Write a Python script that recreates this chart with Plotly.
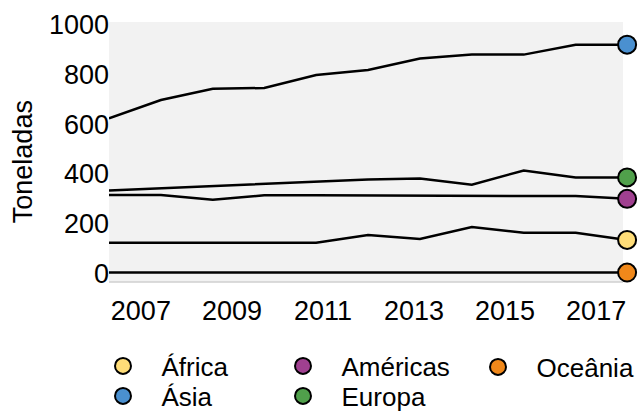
import plotly.graph_objects as go

# x positions (years) of the data points
years = [2006.30, 2007.44, 2008.58, 2009.71, 2010.85, 2011.99,
         2013.13, 2014.27, 2015.41, 2016.55, 2017.68]

regions = ["África", "Américas", "Oceânia", "Ásia", "Europa"]
africa = [124, 124, 124, 124, 124, 155, 139, 187, 164, 164, 135]
americas = [315, 315, 296, 314, 314, 313, 312, 311, 310, 311, 300]
oceania = [4, 4, 4, 4, 4, 4, 4, 4, 4, 4, 4]
asia = [623, 697, 742, 745, 797, 817, 863, 879, 879, 919, 919]
europa = [333, 342, 351, 360, 369, 378, 382, 357, 414, 386, 386]

series = [africa, americas, oceania, asia, europa]
colors = ["#ffdd78", "#a04090", "#f0881a", "#4a90d0", "#50a04b"]

x_ticks = [2007, 2009, 2011, 2013, 2015, 2017]
y_ticks = [0, 200, 400, 600, 800, 1000]

FONT = "Liberation Sans, Arial, sans-serif"
W, H = 638, 414
ML, MR, MT, MB = 109, 10, 22, 132
PW, PH = W - ML - MR, H - MT - MB
BG_RIGHT = (623 - ML) / PW   # grey panel ends a little before the end markers


def px_x(px):
    return (px - ML) / PW


def px_y(py):
    return (MT + PH - py) / PH


fig = go.Figure()

for name, vals in zip(regions, series):
    fig.add_trace(go.Scatter(
        x=years, y=vals, mode="lines",
        line=dict(color="black", width=2.5),
        showlegend=False, hoverinfo="skip", cliponaxis=False,
    ))

# legend item centres (reference pixels)
leg_pos = [(123, 367), (303, 367), (498, 368), (123, 397), (303, 397)]
legend_names = ["legend", "legend2", "legend3", "legend4", "legend5"]

for i, (name, vals, col) in enumerate(zip(regions, series, colors)):
    fig.add_trace(go.Scatter(
        x=[years[-1]], y=[vals[-1]], mode="markers", name=name,
        marker=dict(size=18, color=col, line=dict(color="black", width=2)),
        legend=legend_names[i], cliponaxis=False,
    ))

layout_legends = {}
for ln, (px, py) in zip(legend_names, leg_pos):
    layout_legends[ln] = dict(
        xref="paper", yref="paper",
        x=px_x(px - 38.5), y=px_y(py - 1),
        xanchor="left", yanchor="middle",
        bgcolor="rgba(0,0,0,0)",
        font=dict(family=FONT, size=26, color="black"),
        itemwidth=67,
    )

fig.update_layout(
    width=W, height=H,
    margin=dict(l=ML, r=MR, t=MT, b=MB, autoexpand=False),
    paper_bgcolor="white",
    plot_bgcolor="white",
    font=dict(family=FONT, size=27, color="black"),
    xaxis=dict(
        range=[2006.30, 2017.70],
        tickvals=x_ticks, ticktext=[str(v) for v in x_ticks],
        showgrid=False, zeroline=False, showline=False,
        ticks="", ticklabelstandoff=10,
        tickfont=dict(family=FONT, size=27, color="black"),
    ),
    yaxis=dict(
        range=[-34, 1010],
        tickvals=y_ticks, ticktext=[str(v) for v in y_ticks],
        showgrid=False, zeroline=False, showline=False,
        ticks="", ticklabelstandoff=-1,
        tickfont=dict(family=FONT, size=27, color="black"),
    ),
    shapes=[
        dict(type="rect", xref="paper", yref="paper", layer="below",
             x0=0, x1=BG_RIGHT, y0=0, y1=1,
             fillcolor="#f2f2f2", line=dict(width=0)),
        dict(type="line", xref="paper", yref="paper", layer="below",
             x0=0, x1=BG_RIGHT, y0=0, y1=0,
             line=dict(color="#cfcfcf", width=1.5)),
    ],
    annotations=[dict(
        text="Toneladas", textangle=-90,
        xref="paper", yref="paper",
        x=px_x(22.5), y=px_y(161.7),
        xanchor="center", yanchor="middle", showarrow=False,
        font=dict(family=FONT, size=27, color="black"),
    )],
    **layout_legends,
)

fig.write_html(
    "out.html",
    config={"displayModeBar": False},
    post_script="document.body.style.margin='0';"
                "document.body.style.overflow='hidden';",
)
